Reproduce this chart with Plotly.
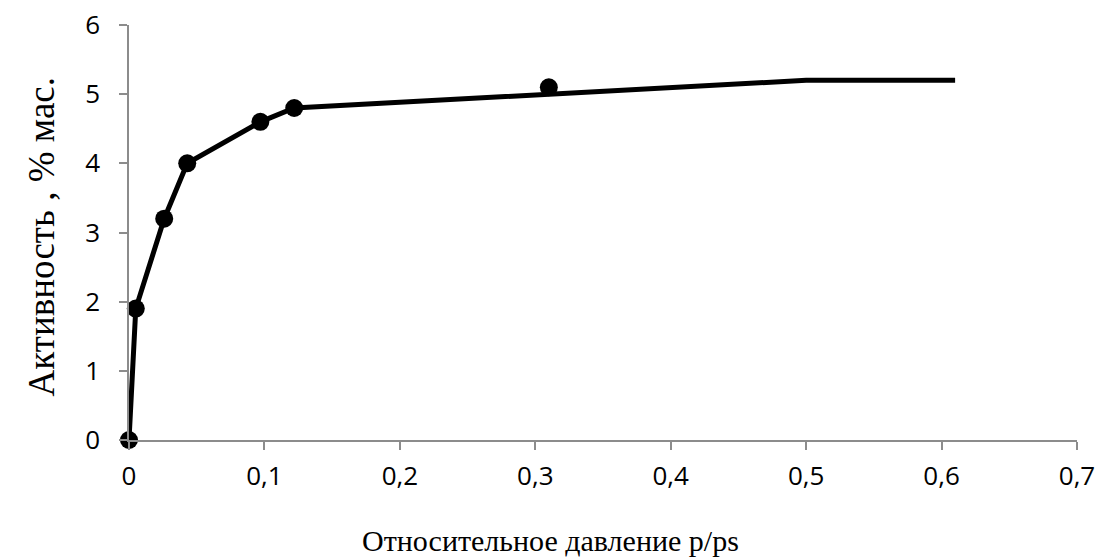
import plotly.graph_objects as go

# Line (trend) data
line_x = [0, 0.005, 0.026, 0.043, 0.097, 0.122, 0.5, 0.61]
line_y = [0, 1.9, 3.2, 4.0, 4.6, 4.8, 5.2, 5.2]

# Measured points
pts_x = [0, 0.005, 0.026, 0.043, 0.097, 0.122, 0.31]
pts_y = [0, 1.9, 3.2, 4.0, 4.6, 4.8, 5.1]

x_ticks = [0, 0.1, 0.2, 0.3, 0.4, 0.5, 0.6, 0.7]
x_ticklabels = ["0", "0,1", "0,2", "0,3", "0,4", "0,5", "0,6", "0,7"]
y_ticks = [0, 1, 2, 3, 4, 5, 6]

x_title = "Относительное давление p/ps"
y_title = "Активность , % мас."

fig = go.Figure()
fig.add_trace(go.Scatter(x=line_x, y=line_y, mode="lines",
                         line=dict(color="black", width=5), cliponaxis=False,
                         showlegend=False, hoverinfo="skip"))
fig.add_trace(go.Scatter(x=pts_x, y=pts_y, mode="markers",
                         marker=dict(color="black", size=18), cliponaxis=False,
                         showlegend=False))

axis_color = "#8c8c8c"
tick_font = dict(family="Open Sans, Lato, sans-serif", size=26, color="black")
serif = "Liberation Serif, Times New Roman, serif"

fig.update_layout(
    width=1098, height=559,
    margin=dict(l=129, r=21, t=25, b=119),
    plot_bgcolor="white", paper_bgcolor="white",
    xaxis=dict(range=[0, 0.7], tickvals=x_ticks, ticktext=x_ticklabels,
               showgrid=False, zeroline=False, showline=True, automargin=False,
               linecolor=axis_color, linewidth=1.5,
               ticks="outside", ticklen=8, tickwidth=1.5, tickcolor=axis_color,
               tickfont=tick_font, ticklabelstandoff=4),
    yaxis=dict(range=[0, 6], tickvals=y_ticks,
               showgrid=False, zeroline=False, showline=True, automargin=False,
               linecolor=axis_color, linewidth=1.5,
               ticks="outside", ticklen=8, tickwidth=1.5, tickcolor=axis_color,
               tickfont=tick_font, ticklabelstandoff=14),
    annotations=[
        dict(text=x_title, xref="paper", yref="paper", x=0.445, y=-0.242,
             showarrow=False, xanchor="center", yanchor="middle",
             font=dict(family=serif, size=30, color="black")),
        dict(text=y_title, xref="paper", yref="paper", x=-0.092, y=0.49,
             showarrow=False, xanchor="center", yanchor="middle", textangle=-90,
             font=dict(family=serif, size=37, color="black")),
    ],
)

fig.write_html("out.html")
